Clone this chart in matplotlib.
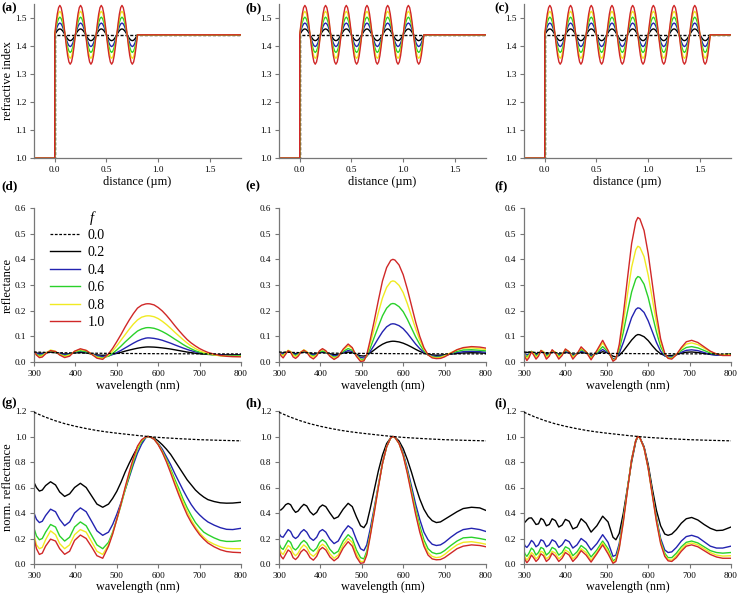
import numpy as np
import matplotlib.pyplot as plt

plt.rcParams['font.family'] = ['Liberation Serif', 'DejaVu Serif']

# ---- data ----
f_labels = ['0.0', '0.2', '0.4', '0.6', '0.8', '1.0']
colors = ['black', 'black', '#2323b0', '#2ad12a', '#f0ea22', '#d02828']

# refractive index profiles (a)-(c)
n_air = 1.0
n_host = 1.44
period_um = 0.2
n_periods = [4, 6, 8]
mod_amp = [0.0, 0.021, 0.042, 0.063, 0.084, 0.105]
# one period of the modulation, 16 samples
period_shape = [0.0, 0.383, 0.707, 0.924, 1.0, 0.924, 0.707, 0.383,
                0.0, -0.383, -0.707, -0.924, -1.0, -0.924, -0.707, -0.383]
z_min, z_max = -0.2, 1.8

# f = 0 curve, normalised (same in g, h, i)
wl_ref = [300, 325, 350, 375, 400, 425, 450, 475, 500, 525, 550, 575, 600, 650, 700, 750, 800]
ref_norm = [1.19, 1.155, 1.125, 1.10, 1.08, 1.063, 1.048, 1.036, 1.026, 1.017, 1.008, 1.0,
            0.993, 0.983, 0.975, 0.97, 0.966]
ref_peak = 0.0326

# (g) 4 periods, normalised reflectance
wl_g = [300, 306, 313, 320, 328, 340, 352, 362, 374, 386, 398, 412, 426, 440, 452, 466, 480,
        490, 500, 510, 520, 530, 540, 550, 560, 570, 575, 580, 590, 600, 610, 620, 630, 640,
        650, 660, 670, 680, 690, 700, 710, 720, 735, 750, 765, 780, 800]
g_f02 = [.64, .60, .572, .58, .615, .645, .62, .565, .53, .55, .60, .633, .60, .53, .47, .445,
         .47, .515, .57, .64, .72, .79, .855, .915, .962, .993, 1.0, .998, .988, .965, .935, .90,
         .86, .81, .76, .71, .66, .62, .58, .55, .525, .505, .49, .48, .477, .478, .484]
g_f04 = [.40, .35, .325, .335, .38, .43, .41, .35, .30, .33, .40, .44, .41, .33, .26, .225,
         .25, .31, .39, .48, .58, .68, .78, .87, .94, .99, 1.0, .997, .978, .945, .90, .84,
         .78, .71, .645, .58, .52, .465, .42, .385, .355, .33, .305, .285, .272, .27, .28]
g_f06 = [.28, .22, .19, .20, .25, .31, .29, .22, .18, .21, .29, .33, .30, .22, .15, .12,
         .17, .25, .35, .46, .58, .69, .80, .90, .96, .995, 1.0, .998, .98, .94, .885, .82,
         .745, .665, .59, .51, .44, .38, .325, .285, .25, .23, .205, .185, .177, .177, .183]
g_f08 = [.23, .15, .12, .13, .19, .26, .23, .16, .12, .15, .23, .27, .25, .17, .10, .075,
         .15, .24, .35, .47, .59, .71, .82, .91, .97, .996, 1.0, .998, .98, .94, .88, .81,
         .73, .645, .565, .485, .41, .345, .29, .245, .21, .18, .155, .135, .123, .12, .12]
g_f10 = [.20, .12, .075, .085, .14, .195, .18, .12, .076, .10, .185, .227, .20, .13, .065, .045,
         .14, .235, .35, .47, .60, .72, .83, .925, .975, .997, 1.0, .998, .98, .935, .875, .80,
         .715, .625, .54, .46, .385, .325, .275, .23, .195, .165, .135, .112, .098, .092, .089]

# (h) 6 periods
wl_h = [300, 305, 310, 316, 322, 328, 334, 340, 346, 353, 360, 367, 375, 383, 391, 398, 405,
        413, 423, 433, 443, 455, 467, 477, 487, 497, 505, 512, 520, 530, 540, 550, 560, 570,
        575, 580, 590, 600, 610, 620, 630, 640, 650, 660, 670, 680, 690, 700, 715, 730, 745,
        765, 785, 800]
h_f02 = [.42, .425, .44, .465, .475, .465, .43, .405, .415, .445, .468, .455, .41, .385, .405,
         .445, .463, .45, .40, .355, .37, .43, .476, .45, .37, .30, .285, .32, .43, .58, .73,
         .855, .945, .99, 1.0, .995, .965, .905, .82, .72, .61, .51, .43, .375, .34, .325, .33,
         .35, .38, .41, .435, .445, .44, .42]
h_f04 = [.24, .215, .21, .24, .27, .255, .215, .20, .215, .25, .27, .25, .205, .185, .21, .255,
         .27, .25, .195, .16, .18, .25, .30, .275, .19, .12, .105, .15, .27, .44, .62, .79, .92,
         .99, 1.0, .993, .95, .87, .75, .61, .47, .35, .25, .19, .155, .145, .15, .17, .21,
         .245, .27, .28, .27, .255]
h_f06 = [.16, .125, .115, .15, .185, .17, .125, .11, .13, .165, .185, .165, .12, .10, .125, .17,
         .19, .17, .115, .08, .10, .18, .23, .20, .11, .05, .04, .10, .23, .42, .61, .79, .92,
         .99, 1.0, .993, .945, .86, .73, .58, .43, .30, .19, .12, .09, .08, .085, .105, .145,
         .18, .205, .21, .20, .19]
h_f08 = [.13, .09, .075, .11, .145, .13, .085, .065, .085, .125, .15, .13, .08, .06, .085, .135,
         .155, .135, .08, .045, .07, .15, .20, .17, .08, .02, .02, .08, .22, .41, .61, .79, .92,
         .99, 1.0, .993, .945, .855, .72, .565, .41, .27, .16, .09, .06, .05, .055, .075, .115,
         .15, .17, .175, .165, .155]
h_f10 = [.105, .06, .04, .075, .11, .095, .05, .035, .055, .095, .115, .095, .05, .03, .06, .11,
         .13, .11, .055, .025, .05, .125, .175, .14, .055, .005, .01, .07, .21, .40, .60, .79,
         .92, .99, 1.0, .993, .945, .85, .71, .55, .39, .25, .14, .07, .04, .033, .035, .05,
         .085, .12, .14, .15, .145, .135]

# (i) 8 periods
wl_i = [300, 303, 307, 312, 318, 323, 329, 335, 341, 347, 354, 361, 368, 376, 384, 392, 400,
        409, 418, 428, 438, 450, 462, 476, 490, 503, 515, 522, 530, 540, 550, 560, 570, 575,
        580, 590, 600, 610, 620, 630, 640, 648, 657, 668, 680, 692, 705, 720, 735, 750, 765,
        780, 800]
i_f02 = [.32, .33, .345, .36, .362, .34, .31, .315, .358, .345, .30, .31, .355, .34, .29, .305,
         .35, .335, .275, .29, .355, .32, .25, .30, .375, .33, .21, .19, .24, .40, .60, .80,
         .96, 1.0, .99, .92, .78, .59, .42, .30, .235, .225, .235, .27, .32, .355, .365, .345,
         .31, .28, .262, .265, .29]
i_f04 = [.16, .14, .13, .15, .185, .17, .135, .15, .19, .18, .135, .15, .19, .175, .13, .15,
         .19, .175, .125, .15, .20, .17, .11, .16, .23, .17, .06, .07, .16, .36, .59, .82, .97,
         1.0, .99, .915, .76, .56, .36, .20, .11, .09, .095, .13, .18, .215, .225, .21, .175,
         .14, .125, .125, .14]
i_f06 = [.10, .075, .06, .085, .125, .11, .07, .09, .13, .12, .07, .09, .13, .115, .07, .09,
         .135, .12, .065, .095, .145, .115, .055, .11, .18, .12, .025, .04, .14, .35, .59, .82,
         .97, 1.0, .99, .91, .755, .55, .35, .18, .085, .05, .05, .085, .135, .17, .18, .165,
         .135, .105, .09, .085, .09]
i_f08 = [.08, .05, .03, .055, .09, .075, .04, .06, .10, .09, .04, .06, .10, .085, .04, .065,
         .11, .09, .04, .07, .12, .09, .03, .09, .165, .10, .012, .03, .13, .34, .585, .82, .97,
         1.0, .99, .91, .75, .545, .34, .17, .07, .035, .03, .065, .115, .155, .165, .15, .12,
         .09, .07, .062, .065]
i_f10 = [.06, .03, .01, .03, .07, .05, .02, .04, .08, .065, .02, .04, .085, .06, .02, .045,
         .09, .07, .02, .055, .105, .07, .015, .08, .15, .08, .005, .02, .12, .33, .58, .82, .97,
         1.0, .99, .91, .75, .54, .33, .16, .06, .025, .02, .05, .10, .14, .15, .135, .105,
         .075, .055, .045, .045]

# peak reflectance at 575 nm for f = 0.2 ... 1.0 (panels d, e, f)
peak_d = [0.0587, 0.094, 0.134, 0.18, 0.227]
peak_e = [0.081, 0.149, 0.228, 0.316, 0.40]
peak_f = [0.107, 0.211, 0.333, 0.451, 0.563]

panels = [
    (wl_g, [g_f02, g_f04, g_f06, g_f08, g_f10], peak_d),
    (wl_h, [h_f02, h_f04, h_f06, h_f08, h_f10], peak_e),
    (wl_i, [i_f02, i_f04, i_f06, i_f08, i_f10], peak_f),
]

# ---- layout (pixels of a 738x595 image) ----
W, H = 738, 595
cols = [(34, 241), (279, 486), (524, 731)]
rows = [(4, 158), (208, 362), (411, 564)]
spine_col = '#777777'
dash = (0, (2.2, 1.3))

fig = plt.figure(figsize=(W / 100, H / 100), dpi=100)


def make_ax(c, r):
    x0, x1 = cols[c]
    y0, y1 = rows[r]
    ax = fig.add_axes([x0 / W, 1 - y1 / H, (x1 - x0) / W, (y1 - y0) / H])
    for s in ['top', 'right']:
        ax.spines[s].set_visible(False)
    for s in ['left', 'bottom']:
        ax.spines[s].set_color(spine_col)
        ax.spines[s].set_linewidth(0.9)
    ax.tick_params(direction='out', length=3, width=0.8, color=spine_col,
                   labelsize=6.6, pad=2.5)
    return ax


def profile(amp, nper):
    z = [z_min, 0.0]
    n = [n_air, n_air]
    for p in range(nper):
        for k, s in enumerate(period_shape):
            z.append(period_um * (p + k / len(period_shape)))
            n.append(n_host + amp * s)
    z += [period_um * nper, z_max]
    n += [n_host, n_host]
    return z, n


# top row: refractive index
for c in range(3):
    ax = make_ax(c, 0)
    for j in range(6):
        z, n = profile(mod_amp[j], n_periods[c])
        ls = dash if j == 0 else '-'
        ax.plot(z, n, color=colors[j], lw=1.0, ls=ls)
    ax.set_xlim(z_min, z_max)
    ax.set_ylim(1.0, 1.55)
    ax.set_xticks([0.0, 0.5, 1.0, 1.5])
    ax.set_yticks([1.0, 1.1, 1.2, 1.3, 1.4, 1.5])
    ax.xaxis.set_major_formatter('{x:.1f}')
    ax.yaxis.set_major_formatter('{x:.1f}')

# middle row: reflectance; bottom row: normalised reflectance
for c, (wl, curves, peaks) in enumerate(panels):
    axm = make_ax(c, 1)
    axb = make_ax(c, 2)
    for j in range(5):
        norm = np.array(curves[j])
        axm.plot(wl, norm * peaks[j], color=colors[j + 1], lw=1.0, label=f_labels[j + 1])
        axb.plot(wl, norm, color=colors[j + 1], lw=1.0)
    axm.plot(wl_ref, np.array(ref_norm) * ref_peak, color='black', lw=0.9, ls=dash,
             label=f_labels[0], zorder=3)
    axb.plot(wl_ref, ref_norm, color='black', lw=0.9, ls=dash, zorder=3)
    for ax, top, step in [(axm, 0.6, 0.1), (axb, 1.2, 0.2)]:
        ax.set_xlim(300, 800)
        ax.set_ylim(0, top)
        ax.set_xticks([300, 400, 500, 600, 700, 800])
        ax.set_yticks(np.arange(0, top + 1e-9, step))
        ax.yaxis.set_major_formatter('{x:.1f}')
    if c == 0:
        h, l = axm.get_legend_handles_labels()
        order = [5, 0, 1, 2, 3, 4]
        axm.legend([h[k] for k in order], [l[k] for k in order], loc='upper left',
                   bbox_to_anchor=(0.077, 0.865), frameon=False, fontsize=10,
                   handlelength=2.2, handletextpad=0.5, labelspacing=0.32,
                   borderpad=0.0, borderaxespad=0.0)
        fig.text(92 / W, 1 - 218 / H, 'f', style='italic', fontsize=10.5,
                 ha='center', va='center')

# axis labels
for c in range(3):
    xc = (cols[c][0] + cols[c][1]) / 2 / W
    fig.text(xc, 1 - 182 / H, 'distance (µm)', ha='center', va='center', fontsize=8.8)
    fig.text(xc, 1 - 386 / H, 'wavelength (nm)', ha='center', va='center', fontsize=8.8)
    fig.text(xc, 1 - 587 / H, 'wavelength (nm)', ha='center', va='center', fontsize=8.8)

for r, txt in enumerate(['refractive index', 'reflectance', 'norm. reflectance']):
    yc = 1 - (rows[r][0] + rows[r][1]) / 2 / H
    fig.text(8 / W, yc, txt, rotation=90, ha='center', va='center', fontsize=9)

# panel letters
letters = [['(a)', '(b)', '(c)'], ['(d)', '(e)', '(f)'], ['(g)', '(h)', '(i)']]
lx = [1, 245, 494]
ly = [8, 186, 403]
for r in range(3):
    for c in range(3):
        fig.text(lx[c] / W, 1 - ly[r] / H, letters[r][c], fontsize=9.5, fontweight='bold',
                 ha='left', va='center')

fig.savefig('out.png', dpi=100)
